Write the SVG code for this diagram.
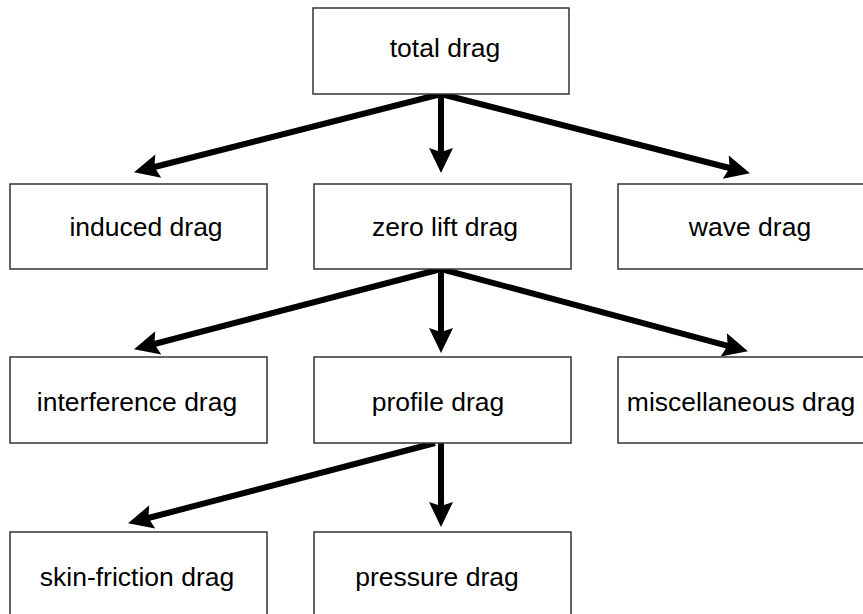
<svg xmlns="http://www.w3.org/2000/svg" width="863" height="614" viewBox="0 0 863 614">
<style>
.box{fill:#fff;stroke:#333;stroke-width:1.5}
.lbl{font-family:"Liberation Sans",Arial,sans-serif;font-size:26.5px;fill:#000;text-anchor:middle}
.edge{stroke:#000;stroke-width:6;fill:none;marker-end:url(#ah)}
</style>
<defs>
<marker id="ah" markerUnits="userSpaceOnUse" viewBox="-2 -13 30 26" refX="8" refY="0" markerWidth="30" markerHeight="26" orient="auto">
<path d="M25,0 L0,-12 L4,0 L0,12 Z" fill="#000"/>
</marker>
</defs>
<rect width="863" height="614" fill="#fff"/>
<g id="connectors">
<line class="edge" x1="441" y1="94" x2="150.5" y2="168"/>
<line class="edge" x1="441" y1="94" x2="441" y2="156"/>
<line class="edge" x1="441" y1="94" x2="733.5" y2="169"/>
<line class="edge" x1="441" y1="269" x2="150.5" y2="345"/>
<line class="edge" x1="441" y1="269" x2="441" y2="336"/>
<line class="edge" x1="441" y1="269" x2="731.5" y2="346.9"/>
<line class="edge" x1="435" y1="443" x2="144.5" y2="519"/>
<line class="edge" x1="441" y1="443" x2="441" y2="510"/>
</g>
<g id="total-drag"><rect class="box" x="313" y="8" width="256" height="86"/><text class="lbl" x="445" y="57">total drag</text></g>
<g id="induced-drag"><rect class="box" x="10" y="184" width="257" height="85"/><text class="lbl" x="146" y="236">induced drag</text></g>
<g id="zero-lift-drag"><rect class="box" x="314" y="184" width="257" height="85"/><text class="lbl" x="445" y="236">zero lift drag</text></g>
<g id="wave-drag"><rect class="box" x="618" y="184" width="257" height="85"/><text class="lbl" x="750" y="236">wave drag</text></g>
<g id="interference-drag"><rect class="box" x="10" y="357" width="257" height="86"/><text class="lbl" x="137" y="411">interference drag</text></g>
<g id="profile-drag"><rect class="box" x="314" y="357" width="257" height="86"/><text class="lbl" x="438" y="411">profile drag</text></g>
<g id="miscellaneous-drag"><rect class="box" x="618" y="357" width="257" height="86"/><text class="lbl" x="741" y="411">miscellaneous drag</text></g>
<g id="skin-friction-drag"><rect class="box" x="10" y="532" width="257" height="90"/><text class="lbl" x="137" y="586">skin-friction drag</text></g>
<g id="pressure-drag"><rect class="box" x="314" y="532" width="257" height="90"/><text class="lbl" x="437" y="586">pressure drag</text></g>
</svg>
